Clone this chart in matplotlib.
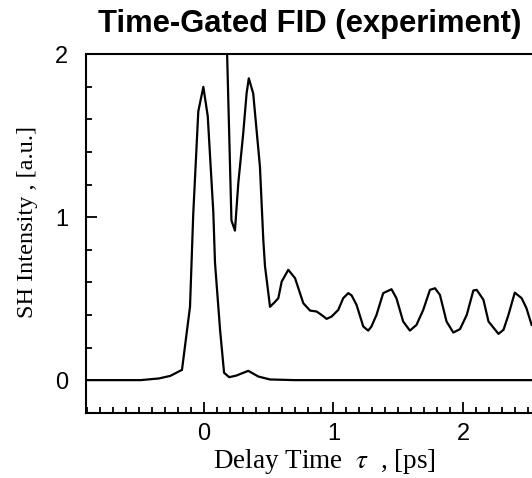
import matplotlib
matplotlib.use("Agg")
import matplotlib.pyplot as plt
from matplotlib.ticker import MultipleLocator

# gate pulse (cross-correlation) curve
gate_t = [-0.91, -0.7, -0.49, -0.35, -0.26, -0.17, -0.108, -0.083, -0.044, -0.005,
          0.029, 0.072, 0.085, 0.124, 0.155, 0.195, 0.25, 0.342, 0.42, 0.51, 0.7, 1.0,
          1.5, 2.0, 2.55]
gate_y = [0.0, 0.0, 0.0, 0.01, 0.026, 0.063, 0.45, 1.02, 1.65, 1.80,
          1.62, 1.03, 0.72, 0.31, 0.045, 0.018, 0.028, 0.057, 0.022, 0.004, 0.0, 0.0,
          0.0, 0.0, 0.0]

# time-gated FID signal
fid_t = [0.172, 0.212, 0.239, 0.265, 0.303, 0.329, 0.346, 0.38, 0.432, 0.458, 0.471,
         0.51, 0.548, 0.574, 0.60, 0.651, 0.703, 0.767, 0.819, 0.87, 0.908, 0.947,
         0.985, 1.037, 1.075, 1.114, 1.14, 1.178, 1.23, 1.268, 1.293, 1.332, 1.384,
         1.448, 1.486, 1.538, 1.59, 1.641, 1.693, 1.745, 1.784, 1.822, 1.873, 1.925,
         1.977, 2.029, 2.08, 2.106, 2.158, 2.197, 2.274, 2.313, 2.351, 2.40, 2.453,
         2.49, 2.53]
fid_y = [2.2, 0.98, 0.918, 1.21, 1.515, 1.76, 1.853, 1.76, 1.31, 0.861, 0.70,
         0.45, 0.48, 0.503, 0.605, 0.677, 0.626, 0.472, 0.427, 0.421, 0.40, 0.376,
         0.39, 0.431, 0.503, 0.534, 0.52, 0.462, 0.329, 0.304, 0.329, 0.40, 0.534,
         0.558, 0.503, 0.36, 0.304, 0.339, 0.431, 0.554, 0.564, 0.523, 0.36, 0.292,
         0.313, 0.40, 0.55, 0.554, 0.493, 0.36, 0.284, 0.309, 0.40, 0.537, 0.503,
         0.442, 0.339]

plt.rcParams['mathtext.fontset'] = 'stix'

fig = plt.figure(figsize=(5.32, 4.78), dpi=100)
ax = fig.add_axes([0.1617, 0.1366, 0.8383, 0.7498])

ax.plot(gate_t, gate_y, color='black', linewidth=1.6)
ax.plot(fid_t, fid_y, color='black', linewidth=1.6)

ax.set_xlim(-0.911, 2.533)
ax.set_ylim(-0.2, 2.0)

ax.spines['right'].set_visible(False)
for s in ['left', 'bottom', 'top']:
    ax.spines[s].set_linewidth(1.5)

ax.xaxis.set_major_locator(MultipleLocator(1))
ax.xaxis.set_minor_locator(MultipleLocator(0.1))
ax.yaxis.set_major_locator(MultipleLocator(1))
ax.yaxis.set_minor_locator(MultipleLocator(0.2))
ax.tick_params(which='both', direction='in', top=False, right=False, width=1.3)
ax.tick_params(which='major', length=8)
ax.tick_params(which='minor', length=4)
ax.tick_params(axis='x', which='major', pad=7.5)
ax.tick_params(axis='y', which='major', pad=13)
for lab in ax.get_xticklabels() + ax.get_yticklabels():
    lab.set_family('Liberation Sans')
    lab.set_fontsize(17)

ax.set_xlabel(r'Delay Time  $\tau$  , [ps]', family='Liberation Serif', fontsize=19.5,
              labelpad=1)
ax.xaxis.label.set_x(0.534)
ax.set_ylabel('SH Intensity , [a.u.]', family='Liberation Serif', fontsize=17.5)
ax.yaxis.set_label_coords(-0.108, 0.532)

fig.text(0.583, 0.95, 'Time-Gated FID (experiment)', ha='center', va='center',
         family='Liberation Sans', fontweight='bold', fontsize=22.3)

fig.savefig('out.png', dpi=100)
